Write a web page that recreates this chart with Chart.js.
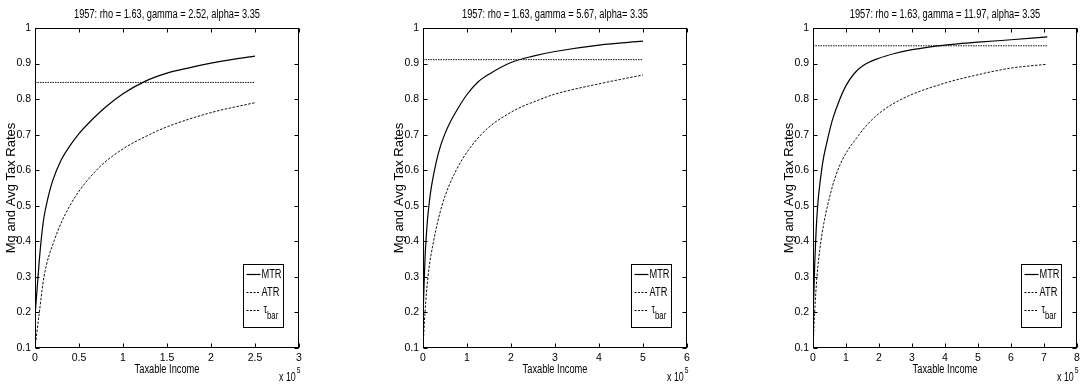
<!DOCTYPE html>
<html><head><meta charset="utf-8">
<script src="https://cdn.jsdelivr.net/npm/chart.js@4.4.0/dist/chart.umd.min.js"></script>
<style>
html,body{margin:0;padding:0;background:#fff;width:1082px;height:389px;overflow:hidden;position:relative;}
canvas{position:absolute;top:0;}
</style></head><body>
<canvas id="c1"></canvas><canvas id="c2"></canvas><canvas id="c3"></canvas>
<script>
// ---- data ----
const year = 1957;
const rhoVals = [1.63, 1.63, 1.63];
const gammaVals = [2.52, 5.67, 11.97];
const alphaVals = [3.35, 3.35, 3.35];

// panel 1
const mtrIncome1 = [0, 2500, 5000, 7500, 10000, 15000, 20000, 30000, 40000, 50000, 60000, 80000, 100000, 125000, 150000, 175000, 200000, 225000, 250000];
const mtrRate1   = [0.19, 0.27, 0.35, 0.415, 0.465, 0.525, 0.57, 0.63, 0.67, 0.703, 0.73, 0.777, 0.815, 0.85, 0.873, 0.888, 0.901, 0.912, 0.921];
const atrIncome1 = [0, 4900, 10200, 21500, 39600, 69800, 100000, 130000, 150000, 200000, 250000];
const atrRate1   = [0.10, 0.20, 0.30, 0.40, 0.50, 0.60, 0.66, 0.70, 0.722, 0.762, 0.79];

// panel 2
const mtrIncome2 = [0, 2500, 5000, 7500, 10000, 15000, 20000, 30000, 40000, 50000, 60000, 80000, 100000, 125000, 150000, 200000, 250000, 300000, 400000, 500000];
const mtrRate2   = [0.19, 0.28, 0.365, 0.415, 0.458, 0.517, 0.56, 0.623, 0.669, 0.703, 0.731, 0.775, 0.813, 0.848, 0.87, 0.903, 0.921, 0.934, 0.952, 0.963];
const atrIncome2 = [0, 4500, 11300, 24000, 43000, 75500, 132000, 200000, 268000, 300000, 400000, 500000];
const atrRate2   = [0.10, 0.20, 0.30, 0.40, 0.50, 0.60, 0.70, 0.763, 0.80, 0.814, 0.843, 0.868];

// panel 3
const mtrIncome3 = [0, 2500, 5000, 7500, 10000, 15000, 20000, 30000, 40000, 50000, 60000, 80000, 100000, 125000, 150000, 200000, 250000, 300000, 400000, 500000, 600000, 710000];
const mtrRate3   = [0.19, 0.25, 0.33, 0.39, 0.44, 0.51, 0.555, 0.625, 0.67, 0.71, 0.745, 0.797, 0.838, 0.872, 0.893, 0.915, 0.929, 0.939, 0.952, 0.96, 0.967, 0.975];
const atrIncome3 = [0, 5000, 12000, 24000, 44000, 75000, 138000, 194000, 269000, 396000, 497000, 598000, 709000];
const atrRate3   = [0.10, 0.20, 0.30, 0.40, 0.50, 0.60, 0.698, 0.755, 0.80, 0.844, 0.868, 0.887, 0.898];

const tauBar = [0.847, 0.911, 0.950];

const xTicks1 = [0, 50000, 100000, 150000, 200000, 250000, 300000];
const xTickLabels1 = ['0', '0.5', '1', '1.5', '2', '2.5', '3'];
const xTicks2 = [0, 100000, 200000, 300000, 400000, 500000, 600000];
const xTickLabels2 = ['0', '1', '2', '3', '4', '5', '6'];
const xTicks3 = [0, 100000, 200000, 300000, 400000, 500000, 600000, 700000, 800000];
const xTickLabels3 = ['0', '1', '2', '3', '4', '5', '6', '7', '8'];
const yTicks = [0.1, 0.2, 0.3, 0.4, 0.5, 0.6, 0.7, 0.8, 0.9, 1.0];
const yTickLabels = ['0.1', '0.2', '0.3', '0.4', '0.5', '0.6', '0.7', '0.8', '0.9', '1'];

const xAxisTitle = 'Taxable Income';
const yAxisTitle = 'Mg and Avg Tax Rates';
const xScaleNote = 'x 10';
const xScaleExp = '5';
const legendLabels = ['MTR', 'ATR', '\u03C4'];
const legendSub = 'bar';

// ---- drawing ----
const FONT = '"Liberation Sans", Arial, sans-serif';
const SQ = 0.74; // horizontal condensing of the original narrow font
const PLOT_W = 264, LEFT_PAD = 35, RIGHT_PAD = 10, H = 389;
const panelLefts = [35, 423, 813];

function condText(ctx, txt, x, y, size, align, baseline) {
  ctx.save();
  ctx.font = size + 'px ' + FONT;
  ctx.textAlign = align; ctx.textBaseline = baseline;
  ctx.translate(x, y);
  ctx.scale(SQ, 1);
  ctx.fillText(txt, 0, 0);
  const w = ctx.measureText(txt).width * SQ;
  ctx.restore();
  return w;
}

const decor = {
  id: 'decor',
  afterDraw(chart) {
    const ctx = chart.ctx, a = chart.chartArea, o = chart.options.plugins.decor;
    const xs = chart.scales.x, ys = chart.scales.y;
    ctx.save();
    ctx.strokeStyle = '#000'; ctx.lineWidth = 1; ctx.setLineDash([]);
    const L = Math.round(a.left) + 0.5, R = Math.round(a.right) - 0.5, T = Math.round(a.top) + 0.5, B = Math.round(a.bottom) - 0.5;
    ctx.strokeRect(L, T, R - L, B - T);
    const tl = 4;
    ctx.beginPath();
    o.xTicks.forEach(v => {
      const px = Math.round(xs.getPixelForValue(v)) + 0.5;
      ctx.moveTo(px, B); ctx.lineTo(px, B - tl);
      ctx.moveTo(px, T); ctx.lineTo(px, T + tl);
    });
    yTicks.forEach(v => {
      const py = Math.round(ys.getPixelForValue(v)) + 0.5;
      ctx.moveTo(L, py); ctx.lineTo(L + tl, py);
      ctx.moveTo(R, py); ctx.lineTo(R - tl, py);
    });
    ctx.stroke();
    ctx.fillStyle = '#000';
    const cx = (a.left + a.right) / 2;
    condText(ctx, o.title, cx, 14.5, 12.5, 'center', 'middle');
    condText(ctx, xAxisTitle, cx, 370, 12.5, 'center', 'middle');
    const nx = a.right - 20;
    const nw = condText(ctx, xScaleNote, nx, 381, 12, 'left', 'alphabetic');
    condText(ctx, xScaleExp, nx + nw + 1, 373, 9, 'left', 'alphabetic');
    // y title
    ctx.save();
    ctx.translate(a.left - 23.5, (a.top + a.bottom) / 2);
    ctx.rotate(-Math.PI / 2);
    ctx.font = '13px ' + FONT; ctx.textAlign = 'center'; ctx.textBaseline = 'middle';
    ctx.fillText(yAxisTitle, 0, 0);
    ctx.restore();
    // legend
    const bw = 40, bh = 63;
    const bx = Math.round(a.right) - 16 - bw + 0.5, by = Math.round(a.bottom) - 21 - bh + 0.5;
    ctx.fillStyle = '#fff'; ctx.fillRect(bx, by, bw, bh);
    ctx.strokeStyle = '#000'; ctx.lineWidth = 1; ctx.strokeRect(bx, by, bw, bh);
    const rows = [by + 10, by + 28, by + 46];
    const dashes = [[], [2, 1.5], [2, 1.5]];
    ctx.fillStyle = '#000';
    rows.forEach((ry, i) => {
      ctx.setLineDash(dashes[i]);
      ctx.lineWidth = i === 0 ? 1.2 : 1;
      ctx.beginPath(); ctx.moveTo(bx + 3, ry); ctx.lineTo(bx + 17, ry); ctx.stroke();
      ctx.setLineDash([]);
      if (i < 2) {
        condText(ctx, legendLabels[i], bx + 18, ry + 0.5, 12.5, 'left', 'middle');
      } else {
        const tw = condText(ctx, legendLabels[i], bx + 20, ry - 1, 12, 'left', 'middle');
        condText(ctx, legendSub, bx + 20 + tw, ry + 6, 10.5, 'left', 'middle');
      }
    });
    ctx.restore();
  }
};

function makePanel(id, idx, mInc, mRate, aInc, aRate, xTicks, xLabels) {
  const cv = document.getElementById(id);
  const W = LEFT_PAD + PLOT_W + RIGHT_PAD;
  cv.width = W; cv.height = H;
  cv.style.width = W + 'px'; cv.style.height = H + 'px';
  cv.style.left = (panelLefts[idx] - LEFT_PAD) + 'px';
  const lastX = Math.max(mInc[mInc.length - 1], aInc[aInc.length - 1]);
  const title = `${year}: rho = ${rhoVals[idx].toFixed(2)}, gamma = ${gammaVals[idx].toFixed(2)}, alpha= ${alphaVals[idx].toFixed(2)}`;
  new Chart(cv, {
    type: 'scatter',
    data: {
      datasets: [
        { label: 'MTR', data: mInc.map((x, i) => ({ x, y: mRate[i] })), showLine: true, borderColor: '#000', borderWidth: 1.2, pointRadius: 0, cubicInterpolationMode: 'monotone' },
        { label: 'ATR', data: aInc.map((x, i) => ({ x, y: aRate[i] })), showLine: true, borderColor: '#111', borderWidth: 1, borderDash: [2.5, 1.5], pointRadius: 0, cubicInterpolationMode: 'monotone' },
        { label: 'tau_bar', data: [{ x: 0, y: tauBar[idx] }, { x: lastX, y: tauBar[idx] }], showLine: true, borderColor: '#111', borderWidth: 1, borderDash: [1.5, 1], pointRadius: 0 }
      ]
    },
    options: {
      responsive: false, animation: false, devicePixelRatio: 1,
      layout: { padding: { top: 28, right: RIGHT_PAD, left: 0, bottom: 0 } },
      plugins: { legend: { display: false }, tooltip: { enabled: false }, title: { display: false },
        decor: { title, xTicks } },
      scales: {
        x: {
          type: 'linear', min: 0, max: xTicks[xTicks.length - 1],
          afterBuildTicks: s => { s.ticks = xTicks.map(v => ({ value: v })); },
          afterFit: s => { s.height = H - 348; },
          grid: { display: false, drawTicks: false }, border: { display: false },
          ticks: { callback: (v, i) => xLabels[i], color: '#000', font: { family: FONT, size: 10.5 }, padding: 4, maxRotation: 0, autoSkip: false }
        },
        y: {
          type: 'linear', min: 0.1, max: 1.0,
          afterBuildTicks: s => { s.ticks = yTicks.map(v => ({ value: v })); },
          afterFit: s => { s.width = LEFT_PAD; },
          grid: { display: false, drawTicks: false }, border: { display: false },
          ticks: { callback: (v, i) => yTickLabels[i], color: '#000', font: { family: FONT, size: 10.5 }, padding: 4, autoSkip: false }
        }
      }
    },
    plugins: [decor]
  });
}

makePanel('c1', 0, mtrIncome1, mtrRate1, atrIncome1, atrRate1, xTicks1, xTickLabels1);
makePanel('c2', 1, mtrIncome2, mtrRate2, atrIncome2, atrRate2, xTicks2, xTickLabels2);
makePanel('c3', 2, mtrIncome3, mtrRate3, atrIncome3, atrRate3, xTicks3, xTickLabels3);
</script>
</body></html>
